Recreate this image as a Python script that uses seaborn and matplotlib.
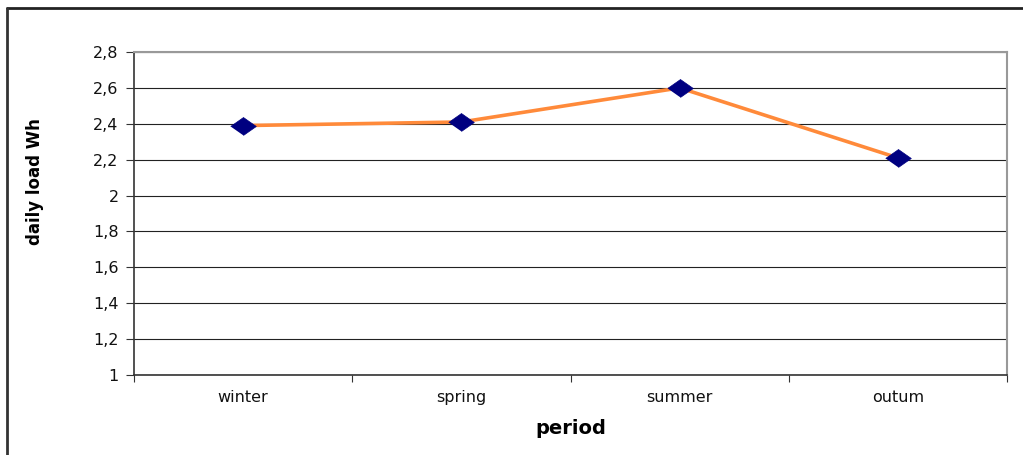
import seaborn as sns
import pandas as pd
import matplotlib.pyplot as plt
from matplotlib.lines import Line2D
from matplotlib.ticker import FuncFormatter, FixedLocator

periods = ["winter", "spring", "summer", "outum"]
load_wh = [2.39, 2.41, 2.60, 2.21]
y_ticks = [1, 1.2, 1.4, 1.6, 1.8, 2, 2.2, 2.4, 2.6, 2.8]

sns.set_theme(style="white")
plt.rcParams["font.family"] = ["DejaVu Sans"]

df = pd.DataFrame({"period": periods, "load": load_wh})
df["pos"] = range(len(periods))

fig = plt.figure(figsize=(10.23, 4.55), dpi=100)
ax = fig.add_axes([134 / 1023, 80 / 455, 873 / 1023, 323 / 455])

# wide flat diamond like the excel marker
diamond = [(-1, 0), (0, 0.7), (1, 0), (0, -0.7)]

sns.lineplot(data=df, x="pos", y="load", ax=ax, color="#FF8A3A", linewidth=2.6, zorder=3)
sns.scatterplot(data=df, x="pos", y="load", ax=ax, marker=diamond, s=340,
                color="#000080", edgecolor="#000080", linewidth=0.5, zorder=4)

ax.set_xlim(-0.5, len(periods) - 0.5)
ax.set_ylim(1, 2.8)
ax.yaxis.set_major_locator(FixedLocator(y_ticks))
ax.yaxis.set_major_formatter(FuncFormatter(lambda v, p: f"{v:g}".replace(".", ",")))
ax.grid(axis="y", color="#222222", linewidth=0.8)
ax.set_axisbelow(True)

# category boundaries get the ticks, labels sit between them
ax.xaxis.set_major_locator(FixedLocator([i - 0.5 for i in range(len(periods) + 1)]))
ax.xaxis.set_minor_locator(FixedLocator(list(range(len(periods)))))
ax.set_xticklabels([])
ax.set_xticklabels(periods, minor=True)
ax.tick_params(axis="x", which="major", length=5, width=0.8, color="#333333", direction="out", bottom=True)
ax.tick_params(axis="x", which="minor", length=0, pad=11, labelsize=11.5, labelcolor="#111111")
ax.tick_params(axis="y", length=6, width=0.8, color="#333333", direction="out", left=True,
               labelsize=11.5, labelcolor="#111111", pad=5)

for side in ["left", "bottom"]:
    ax.spines[side].set_color("#333333")
    ax.spines[side].set_linewidth(1.2)
for side in ["top", "right"]:
    ax.spines[side].set_color("#999999")
    ax.spines[side].set_linewidth(1.5)

ax.set_xlabel("period", fontsize=14, fontweight="bold", labelpad=10, color="#000000")
ax.set_ylabel("daily load Wh", fontsize=12, fontweight="bold", color="#000000")
ax.yaxis.set_label_coords(-0.103, 0.6)

# outer chart border (top and left edges visible)
fig.add_artist(Line2D([7 / 1023, 1.0], [1 - 8 / 455, 1 - 8 / 455], color="#222222", linewidth=2))
fig.add_artist(Line2D([7 / 1023, 7 / 1023], [0, 1 - 8 / 455], color="#333333", linewidth=2))

fig.savefig("out.png", dpi=100)
